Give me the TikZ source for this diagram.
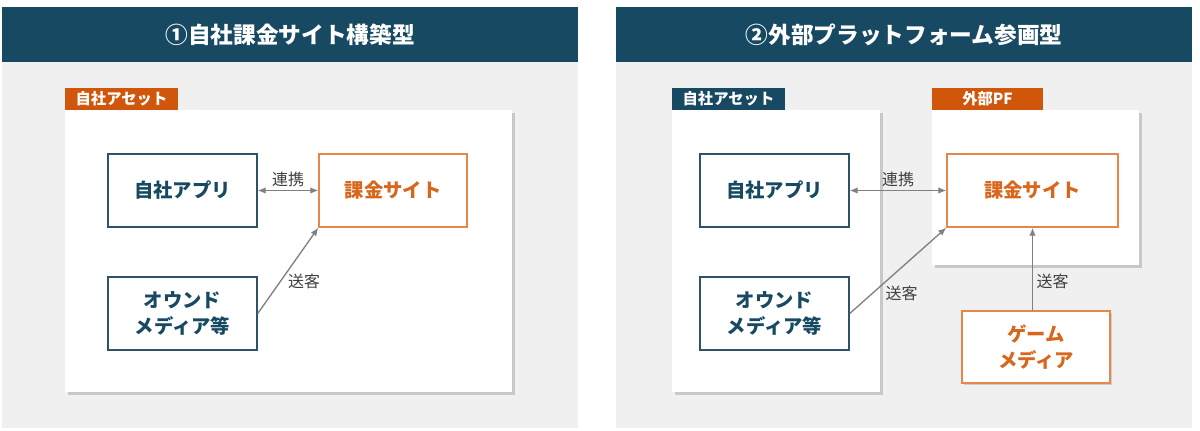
\documentclass[tikz,border=0pt]{standalone}
\usepackage{fontspec}
\setmainfont{Noto Sans CJK JP}
\usetikzlibrary{arrows.meta,shadows}
\definecolor{navy}{HTML}{174A62}
\definecolor{boxnavy}{HTML}{2E5267}
\definecolor{tagorange}{HTML}{D0560C}
\definecolor{boxorange}{HTML}{E8864A}
\definecolor{textorange}{HTML}{D8661C}
\definecolor{bggray}{HTML}{F0F0F0}
\definecolor{linegray}{HTML}{808080}
\definecolor{labelgray}{HTML}{404040}

\begin{document}
\begin{tikzpicture}[x=0.75pt,y=-0.75pt,
	head_node/.style={fill=navy,text=white,font=\bfseries\fontsize{17}{20}\selectfont,minimum width=432pt,minimum height=41.25pt,inner sep=0pt},
	tag_node/.style={text=white,font=\bfseries\fontsize{11.5}{13}\selectfont,minimum width=84.75pt,minimum height=16.5pt,inner sep=0pt},
	panel_node/.style={fill=white,minimum width=156pt,inner sep=0pt,drop shadow={shadow xshift=2pt,shadow yshift=-2pt,opacity=0.35}},
	main_node/.style={draw=boxnavy,line width=1.1pt,fill=white,text=navy,font=\bfseries\fontsize{14.5}{19}\selectfont,align=center,minimum width=111.75pt,minimum height=54.75pt,inner sep=0pt},
	pf_node/.style={main_node,draw=boxorange,text=textorange},
	link/.style={linegray,line width=1pt,-{Latex[length=6pt,width=5pt]}},
	both_link/.style={link,{Latex[length=6pt,width=5pt]}-{Latex[length=6pt,width=5pt]}},
	link_label/.style={text=labelgray,font=\fontsize{12}{14}\selectfont,inner sep=2.5pt}]
	\useasboundingbox (0,0) rectangle (1200,430);

	% (1) left side
	\fill[bggray] (2,62) rectangle (578,428);
	\node[head_node] (head_l) at (290,34.5) {①自社課金サイト構築型};
	\node[panel_node,minimum width=335.25pt,minimum height=211.5pt] (panel_l) at (288.5,251) {};
	\node[tag_node,fill=tagorange] (tag_l) at (121.5,99) {自社アセット};
	\node[main_node] (app_l) at (182.5,190.5) {自社アプリ};
	\node[pf_node,minimum width=111pt] (site_l) at (393,190.5) {課金サイト};
	\node[main_node] (media_l) at (182.5,313.5) {オウンド\\メディア等};

	\path[both_link] (app_l) edge node[link_label,above] {連携} (site_l);
	\path[link] (media_l.east) edge node[link_label,right=3pt,pos=0.37] {送客} (site_l.south west);

	% (2) right side
	\fill[bggray] (616,62) rectangle (1192,428);
	\node[head_node] (head_r) at (904,34.5) {②外部プラットフォーム参画型};
	\node[panel_node,minimum height=211.5pt] (panel_ra) at (776,251) {};
	\node[panel_node,minimum width=155.25pt,minimum height=116.25pt] (panel_rb) at (1035.5,187.5) {};
	\node[tag_node,fill=navy] (tag_ra) at (728.5,99) {自社アセット};
	\node[tag_node,fill=tagorange,minimum width=83.25pt] (tag_rb) at (987.5,99) {外部PF};
	\node[main_node] (app_r) at (774.5,190.5) {自社アプリ};
	\node[pf_node,minimum width=128.25pt] (site_r) at (1032.5,190.5) {課金サイト};
	\node[main_node] (media_r) at (774.5,313.5) {オウンド\\メディア等};
	\node[pf_node,minimum width=111pt,minimum height=54pt,drop shadow={shadow xshift=1.5pt,shadow yshift=-1.5pt,opacity=0.3}] (game_r) at (1036,347) {ゲーム\\メディア};

	\path[both_link] (app_r) edge node[link_label,above] {連携} (site_r);
	\path[link] (media_r.east) edge node[link_label,right=6.5pt,pos=0.24] {送客} (site_r.south west);
	\path[link] (site_r.south |- game_r.north) edge node[link_label,right,pos=0.35] {送客} (site_r.south);
\end{tikzpicture}
\end{document}
